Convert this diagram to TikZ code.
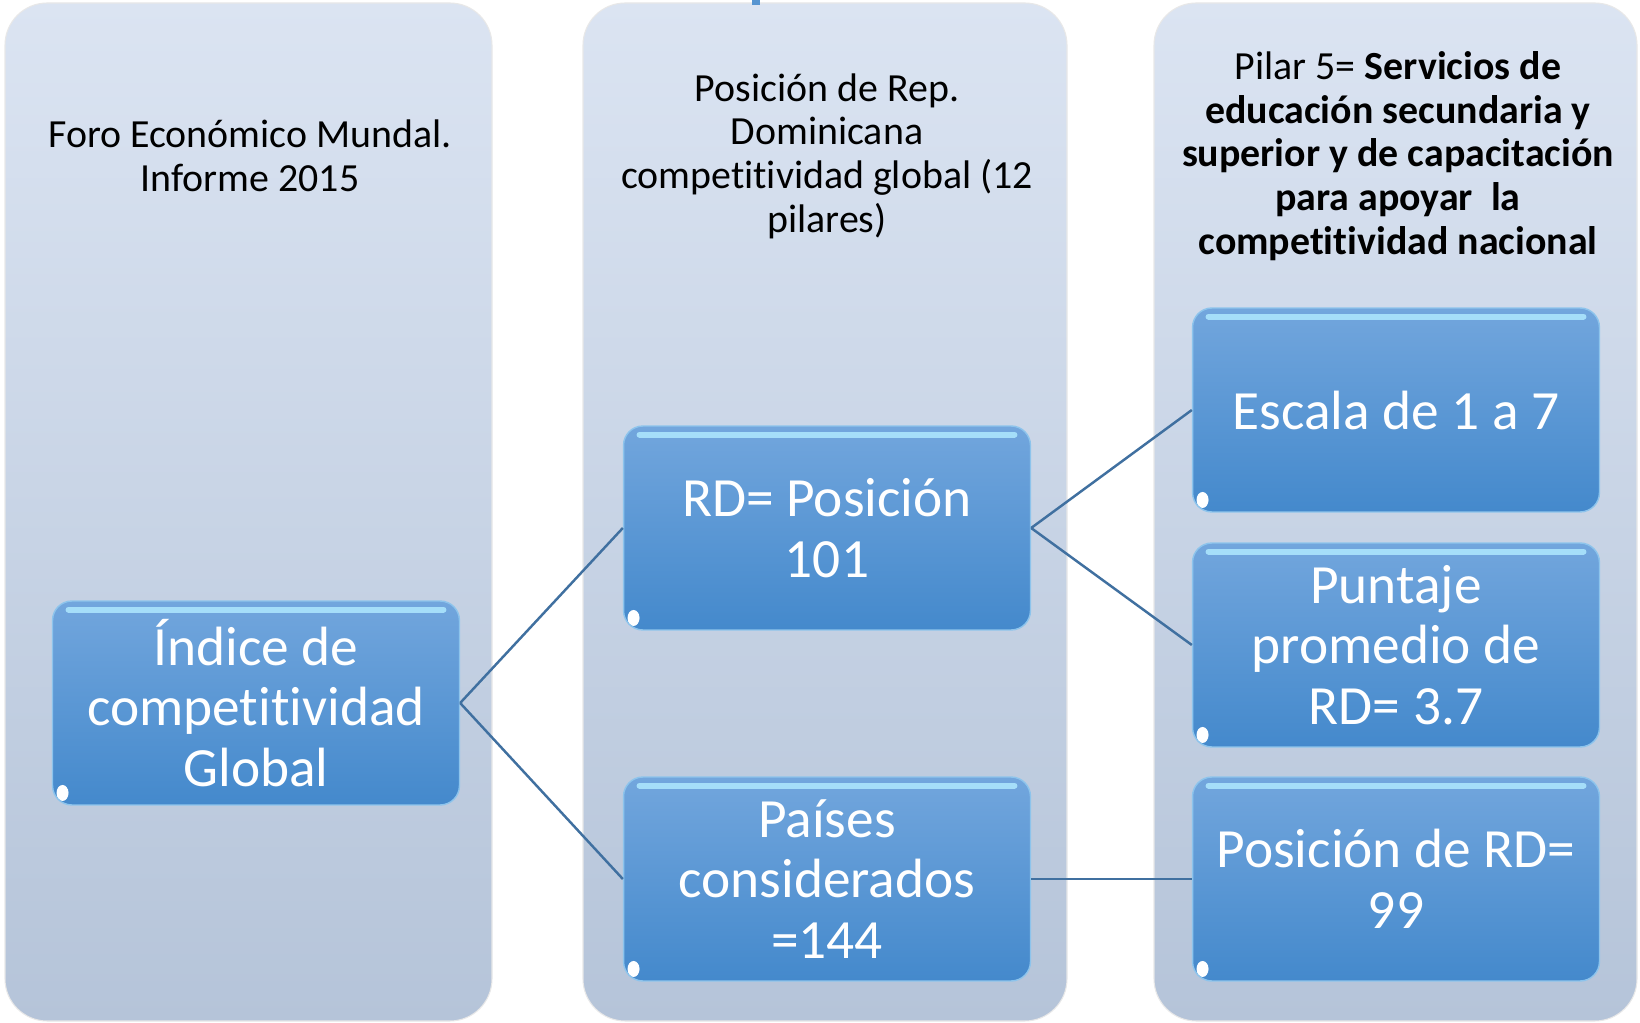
\documentclass[tikz,border=0pt]{standalone}
\usepackage{fontspec}
\setmainfont{Carlito}[Ligatures=NoCommon]
\usetikzlibrary{positioning}

\definecolor{paneltop}{RGB}{219,228,242}
\definecolor{panelbot}{RGB}{181,196,217}
\definecolor{boxtop}{RGB}{114,166,221}
\definecolor{boxbot}{RGB}{68,137,204}
\definecolor{gloss}{RGB}{175,232,255}
\definecolor{linkblue}{RGB}{64,112,160}

\tikzset{
  panel/.style={rounded corners=24pt, top color=paneltop, bottom color=panelbot,
    draw=white!82!gray, line width=0.6pt},
  header/.style={align=center, text=black, font=\fontsize{22.7}{24.9}\selectfont},
  bluebox/.style={rounded corners=11pt, minimum width=8.14cm, minimum height=4.08cm,
    inner sep=0pt, top color=boxtop, bottom color=boxbot, draw=gloss!45!boxtop,
    line width=0.8pt, text=white, align=center,
    font=\fontsize{31.5}{34.6}\selectfont,
    path picture={
      \draw[gloss, line width=0.12cm, line cap=round, opacity=0.85]
        ([xshift=0.32cm,yshift=-0.17cm]path picture bounding box.north west) --
        ([xshift=-0.32cm,yshift=-0.17cm]path picture bounding box.north east);
      \fill[white] ([xshift=0.2cm,yshift=0.24cm]path picture bounding box.south west)
        ellipse (0.12cm and 0.16cm);
    }},
  link/.style={draw=linkblue, line width=1.4pt}
}

\begin{document}
\begin{tikzpicture}[x=0.02cm,y=-0.02cm]
\useasboundingbox (0,0) rectangle (1640,1023);
\fill[white] (0,0) rectangle (1640,1023);

% columns
\draw[panel] (5,3) rectangle (492,1021);
\draw[panel] (583,3) rectangle (1067,1021);
\draw[panel] (1154,3) rectangle (1637,1021);
\fill[boxbot!90!white] (752,0) rectangle (760,5);

% column headers
\node[header] (foro) at (250,156) {Foro Económico Mundal.\\Informe 2015};
\node[header] (rep) at (827,156) {Posición de Rep.\\Dominicana\\competitividad global (12\\pilares)};
\node[header] (pilar) at (1398,156) {Pilar 5= \textbf{Servicios de}\\\textbf{educación secundaria y}\\\textbf{superior y de capacitación}\\\textbf{para apoyar \ la}\\\textbf{competitividad nacional}};

% boxes
\node[bluebox] (indice) at (256,703) {Índice de\\competitividad\\Global};
\node[bluebox] (posicion) at (827,528) {RD= Posición\\101};
\node[bluebox] (paises) at (827,879) {Países\\considerados\\=144};
\node[bluebox] (escala) at (1396,410) {Escala de 1 a 7};
\node[bluebox] (puntaje) at (1396,645) {Puntaje\\promedio de\\RD= 3.7};
\node[bluebox] (rd) at (1396,879) {Posición de RD=\\99};

% connectors
\draw[link] (indice.east) -- (posicion.west);
\draw[link] (indice.east) -- (paises.west);
\draw[link] (posicion.east) -- (escala.west);
\draw[link] (posicion.east) -- (puntaje.west);
\draw[link] (paises.east) -- (rd.west);

\end{tikzpicture}
\end{document}
